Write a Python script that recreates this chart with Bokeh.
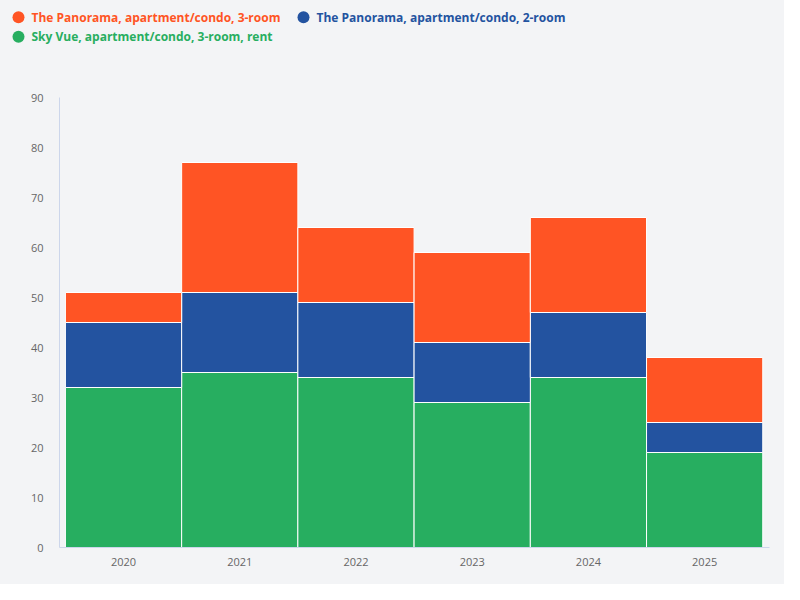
from bokeh.core.properties import value
from bokeh.embed import file_html
from bokeh.layouts import column
from bokeh.models import ColumnDataSource, FixedTicker, Range1d
from bokeh.plotting import figure
from bokeh.resources import INLINE

years = [2020, 2021, 2022, 2023, 2024, 2025]
sky_vue_3room_rent = [32, 35, 34, 29, 34, 19]
panorama_2room = [13, 16, 15, 12, 13, 6]
panorama_3room = [6, 26, 15, 18, 19, 13]

series = ["sky_vue", "pan_2", "pan_3"]
colors = ["#27ae60", "#2353a0", "#ff5424"]

legend_labels = ["The Panorama, apartment/condo, 3-room",
                 "The Panorama, apartment/condo, 2-room",
                 "Sky Vue, apartment/condo, 3-room, rent"]
legend_colors = ["#ff5424", "#2353a0", "#27ae60"]

BG = "#f3f4f6"
W = 784
LEG_H = 49
MAIN_H = 584 - LEG_H

# legend strip: its own small figure, one pixel per unit, y pointing down
col_x = [18, 303]
row_y = [16.7, 36.3]
slots = [(0, 0), (1, 0), (0, 1)]
leg_src = ColumnDataSource(data=dict(
    cx=[col_x[c] for c, r in slots],
    tx=[col_x[c] + 13 for c, r in slots],
    y=[row_y[r] for c, r in slots],
    label=legend_labels,
    color=legend_colors,
))

leg = figure(width=W, height=LEG_H, output_backend="svg", toolbar_location=None,
             x_range=Range1d(0, W), y_range=Range1d(LEG_H, 0),
             min_border=0, frame_align=False)
leg.axis.visible = False
leg.grid.visible = False
leg.outline_line_color = None
leg.background_fill_color = BG
leg.border_fill_color = BG
leg.scatter("cx", "y", source=leg_src, marker="circle", size=12,
            color="color", line_color=None)
leg.text("tx", "y", text="label", source=leg_src, text_color="color",
         text_font=value("Open Sans"), text_font_style="bold",
         text_font_size="12px", text_baseline="middle", text_align="left")

source = ColumnDataSource(data=dict(
    year=years,
    sky_vue=sky_vue_3room_rent,
    pan_2=panorama_2room,
    pan_3=panorama_3room,
))

p = figure(width=W, height=MAIN_H, output_backend="svg", toolbar_location=None,
           x_range=Range1d(2019.449, 2025.558), y_range=Range1d(0, 90),
           min_border_top=48, min_border_left=59, min_border_right=15,
           min_border_bottom=MAIN_H - 498, frame_align=False)

p.background_fill_color = BG
p.border_fill_color = BG
p.outline_line_color = None
p.grid.visible = False

p.vbar_stack(series, x="year", width=1, color=colors, line_color="white",
             line_width=1, source=source)

for ax in (p.xaxis, p.yaxis):
    ax.axis_line_color = "#ccd6eb"
    ax.major_tick_line_color = None
    ax.minor_tick_line_color = None
    ax.major_label_text_color = "#666666"
    ax.major_label_text_font = "Open Sans"
    ax.major_label_text_font_size = "11px"

p.xaxis.ticker = FixedTicker(ticks=years)
p.xaxis.major_label_standoff = 4
p.yaxis.ticker = FixedTicker(ticks=list(range(0, 91, 10)))
p.yaxis.major_label_standoff = 10

layout = column(leg, p, spacing=0, styles={"background-color": BG})

html = file_html(layout, INLINE)
html = html.replace("<body>", '<body style="background-color: %s;">' % BG, 1)
open("out.html", "w").write(html)
